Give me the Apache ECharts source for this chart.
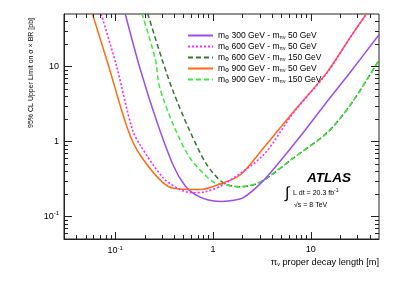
<!DOCTYPE html>
<html><head><meta charset="utf-8">
<script src="https://cdn.jsdelivr.net/npm/echarts@6/dist/echarts.min.js"></script>
<style>html,body{margin:0;padding:0;background:#fff}#c{width:399px;height:286px}</style>
</head><body><div id="c"></div>
<script>
// ---- data ----
const seriesNames = [
  'mphi300_mpiv50', 'mphi600_mpiv50', 'mphi600_mpiv150', 'mphi900_mpiv50', 'mphi900_mpiv150'
];
const legendLabels = [
  ['300', '50'], ['600', '50'], ['600', '150'], ['900', '50'], ['900', '150']
];
// [proper decay length (m), limit (pb)]
const s300_50 = [[0.127,50],[0.181,9.1],[0.268,1.82],[0.396,0.47],[0.521,0.254],[0.66,0.195],[0.875,0.167],[1.19,0.158],[1.57,0.163],[2.05,0.178],[3.19,0.289],[4.87,0.545],[7.8,1.16],[14.6,3.36],[25.3,8.3],[50,26.5]];
const s600_50 = [[0.072,50],[0.103,10.3],[0.149,1.48],[0.181,0.886],[0.311,0.326],[0.464,0.227],[0.615,0.207],[0.834,0.213],[1.28,0.266],[3.28,0.66],[6.64,2.4],[14.6,8.1],[25.2,24],[37.5,51]];
const s600_150 = [[0.215,51],[0.302,12.4],[0.396,4.5],[0.586,1.34],[0.869,0.488],[1.28,0.28],[1.9,0.248],[2.81,0.272],[3.84,0.345],[6.64,0.6],[14.6,1.3],[25.2,3.0],[49,11.6]];
const s900_50 = [[0.0587,49.8],[0.0855,10.3],[0.134,1.48],[0.181,0.654],[0.34,0.256],[0.586,0.229],[0.742,0.229],[1.19,0.272],[1.9,0.357],[3.28,0.81],[6.64,2.46],[14.6,8.26],[25.2,24],[37.5,51]];
const s900_150 = [[0.188,51],[0.258,12.4],[0.285,5.3],[0.396,1.64],[0.586,0.597],[0.977,0.295],[1.24,0.268],[1.9,0.25],[2.81,0.276],[3.84,0.35],[6.64,0.6],[14.6,1.28],[25.2,3.0],[49,11.6]];
const xMajor = [0.1, 1, 10];
const xMinor = [0.03,0.04,0.05,0.06,0.07,0.08,0.09,0.2,0.3,0.4,0.5,0.6,0.7,0.8,0.9,2,3,4,5,6,7,8,9,20,30,40];
const yMajor = [0.1, 1, 10];
const yMinor = [0.05,0.06,0.07,0.08,0.09,0.2,0.3,0.4,0.5,0.6,0.7,0.8,0.9,2,3,4,5,6,7,8,9,20,30,40];
const xRange = [0.03, 50];
const yRange = [0.05, 50];

const FONT = 'Liberation Sans';
const colors = ['#9b4dec', '#ff22ff', '#2f7a2f', '#ff6a10', '#3ce83c'];
const dashes = ['solid', [2, 2], [5, 3], 'solid', [5, 3]];
const dataSets = [s300_50, s600_50, s600_150, s900_50, s900_150];
const AX = '#222';

function fmtPow(v) {
  if (Math.abs(v - 0.1) < 1e-9) return '10{sup|-1}';
  if (Math.abs(v - 1) < 1e-9) return '1';
  if (Math.abs(v - 10) < 1e-9) return '10';
  return '';
}
const labelRich = { sup: { fontSize: 6, fontFamily: FONT, color: '#000', padding: [0, 0, 6, 0] } };

function mainAx(pos, range, majors, margin) {
  return {
    type: 'log', position: pos, min: range[0], max: range[1], logBase: 10,
    axisLine: { show: true, onZero: false, lineStyle: { color: AX, width: 1 } },
    axisTick: { show: false },
    axisLabel: { show: true, customValues: majors, formatter: fmtPow, fontFamily: FONT, fontSize: 9, color: '#000', margin: margin, rich: labelRich },
    splitLine: { show: false }, minorTick: { show: false }
  };
}

const px = v => Math.round(v) + 0.5;
const tickStyle = { stroke: AX, lineWidth: 1 };
// tick marks drawn through the axes' own scales (bottom/top and left/right, inside)
const xTickData = xMajor.map(v => [v, yRange[0], 1]).concat(xMinor.map(v => [v, yRange[0], 0]));
const yTickData = yMajor.map(v => [xRange[0], v, 1]).concat(yMinor.map(v => [xRange[0], v, 0]));
const xTickSeries = {
  type: 'custom', silent: true, z: 10, xAxisIndex: 0, yAxisIndex: 0, encode: { x: 0, y: 1 },
  data: xTickData,
  renderItem: function (params, api) {
    const v = api.value(0), len = api.value(2) ? 7 : 4;
    const b = api.coord([v, yRange[0]]), t = api.coord([v, yRange[1]]);
    const x = px(b[0]);
    return { type: 'group', children: [
      { type: 'line', shape: { x1: x, y1: b[1], x2: x, y2: b[1] - len }, style: tickStyle },
      { type: 'line', shape: { x1: x, y1: t[1], x2: x, y2: t[1] + len }, style: tickStyle }
    ] };
  }
};
const yTickSeries = {
  type: 'custom', silent: true, z: 10, xAxisIndex: 0, yAxisIndex: 0, encode: { x: 0, y: 1 },
  data: yTickData,
  renderItem: function (params, api) {
    const v = api.value(1), len = api.value(2) ? 8 : 4;
    const l = api.coord([xRange[0], v]), r = api.coord([xRange[1], v]);
    const y = px(l[1]);
    return { type: 'group', children: [
      { type: 'line', shape: { x1: l[0], y1: y, x2: l[0] + len, y2: y }, style: tickStyle },
      { type: 'line', shape: { x1: r[0], y1: y, x2: r[0] - len, y2: y }, style: tickStyle }
    ] };
  }
};

const series = dataSets.map((d, i) => ({
  name: seriesNames[i], type: 'line', data: d, xAxisIndex: 0, yAxisIndex: 0,
  symbol: 'none', smooth: 0.3, clip: true, silent: true,
  lineStyle: { color: colors[i], width: i === 1 ? 1.6 : 1.5, type: dashes[i] },
  itemStyle: { color: colors[i] }, z: [3, 4, 2, 3, 2][i]
})).concat([xTickSeries, yTickSeries]);

const chart = echarts.init(document.getElementById('c'), null, { renderer: 'canvas' });
chart.setOption({
  animation: false,
  backgroundColor: '#fff',
  grid: { left: 64, right: 20, top: 14, bottom: 47, containLabel: false, show: true, borderColor: AX, borderWidth: 1, backgroundColor: 'transparent' },
  xAxis: [mainAx('bottom', xRange, xMajor, 6)],
  yAxis: [mainAx('left', yRange, yMajor, 5)],
  legend: {
    orient: 'vertical', left: 182, top: 26, itemWidth: 25, itemHeight: 9, itemGap: 2,
    data: seriesNames,
    itemStyle: { opacity: 0 },
    formatter: function (name) {
      const l = legendLabels[seriesNames.indexOf(name)];
      return 'm{s|Φ} ' + l[0] + ' GeV - m{s|πv} ' + l[1] + ' GeV';
    },
    textStyle: { fontFamily: FONT, fontSize: 8.5, lineHeight: 9, color: '#000',
      rich: { s: { fontSize: 5, lineHeight: 9, fontFamily: FONT, color: '#000', padding: [4, 0, 0, 0] } } }
  },
  graphic: [
    { type: 'text', x: 31, y: 18, rotation: Math.PI / 2,
      style: { text: '95% CL Upper Limit on σ × BR [pb]', fontFamily: FONT, fontSize: 7, fill: '#000', align: 'right', verticalAlign: 'middle' } },
    { type: 'text', x: 379, y: 262,
      style: { text: 'π{s|v} proper decay length [m]', fontFamily: FONT, fontSize: 9.2, fill: '#000', align: 'right', verticalAlign: 'middle',
        rich: { s: { fontSize: 5.5, fontFamily: FONT, fill: '#000', padding: [5, 0, 0, 0] } } } },
    { type: 'text', x: 307, y: 178,
      style: { text: 'ATLAS', fontFamily: FONT, fontSize: 13.5, fontWeight: 'bold', fontStyle: 'italic', fill: '#000', align: 'left', verticalAlign: 'middle' } },
    { type: 'text', x: 285, y: 194,
      style: { text: '∫', fontFamily: FONT, fontSize: 16, fill: '#000', align: 'left', verticalAlign: 'middle' } },
    { type: 'text', x: 293, y: 193,
      style: { text: 'L dt = 20.3 fb{s|-1}', fontFamily: FONT, fontSize: 7, fill: '#000', align: 'left', verticalAlign: 'middle',
        rich: { s: { fontSize: 5, fontFamily: FONT, fill: '#000', padding: [0, 0, 5, 0] } } } },
    { type: 'text', x: 294, y: 205,
      style: { text: '√s = 8 TeV', fontFamily: FONT, fontSize: 7, fill: '#000', align: 'left', verticalAlign: 'middle' } }
  ],
  series: series
});
</script></body></html>
